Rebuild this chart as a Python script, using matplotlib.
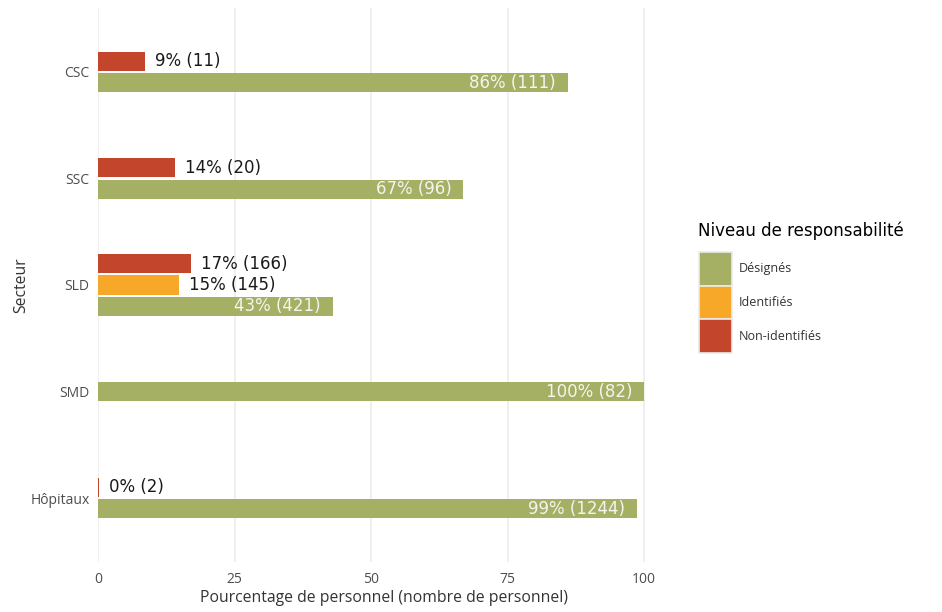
import matplotlib
matplotlib.use("Agg")
import matplotlib.pyplot as plt
from matplotlib.patches import Patch

# Données
secteurs = ["CSC", "SSC", "SLD", "SMD", "Hôpitaux"]
niveaux = ["Désignés", "Identifiés", "Non-identifiés"]
couleurs = ["#A6B064", "#F8A829", "#C2452C"]

designes_pct = [86.0, 66.9, 43.0, 100.0, 98.8]
designes_n = [111, 96, 421, 82, 1244]
identifies_pct = [None, None, 14.9, None, None]
identifies_n = [None, None, 145, None, None]
non_identifies_pct = [8.6, 14.1, 17.0, None, 0.16]
non_identifies_n = [11, 20, 166, None, 2]

pcts = [designes_pct, identifies_pct, non_identifies_pct]
counts = [designes_n, identifies_n, non_identifies_n]

W, H = 942, 612
fig = plt.figure(figsize=(W / 100, H / 100), dpi=100)
ax = fig.add_axes([98 / W, 50 / H, 572 / W, 554 / H])

tick_font = "Open Sans"
bar_h = 0.18
step = 0.2

for i, sect in enumerate(secteurs):
    yc = len(secteurs) - i
    present = [k for k in range(3) if pcts[k][i] is not None]
    n = len(present)
    for j, k in enumerate(present):
        y = yc + (j - (n - 1) / 2) * step
        p = pcts[k][i]
        ax.barh(y, p, height=bar_h, color=couleurs[k], linewidth=0)
        label = f"{int(p + 0.5)}% ({counts[k][i]})"
        if k == 0:
            ax.annotate(label, (p, y), xytext=(-12, 0), textcoords="offset pixels",
                        ha="right", va="center", color="#F4F4F0", fontsize=12,
                        family="DejaVu Sans")
        else:
            ax.annotate(label, (p, y), xytext=(10, 0), textcoords="offset pixels",
                        ha="left", va="center", color="#1A1A1A", fontsize=12,
                        family="DejaVu Sans")

# 100 tombe à 644 px, le panneau continue jusqu'à ~670 px
ax.set_xlim(0, 100 * 572 / 546)
ax.set_ylim(0.4, len(secteurs) + 0.6)
ax.set_xticks([0, 25, 50, 75, 100])
ax.set_yticks(range(len(secteurs), 0, -1))
ax.set_yticklabels(secteurs)
ax.grid(axis="x", color="#EBEBEB", linewidth=1.1)
ax.set_axisbelow(True)
for s in ax.spines.values():
    s.set_visible(False)
ax.tick_params(length=0, labelsize=10, labelcolor="#4D4D4D")
ax.tick_params(axis="x", pad=7)
ax.tick_params(axis="y", pad=6)
for lab in ax.get_xticklabels() + ax.get_yticklabels():
    lab.set_family(tick_font)

ax.set_xlabel("Pourcentage de personnel (nombre de personnel)", fontsize=11.3,
              color="#333333", family=tick_font, labelpad=2)
ax.set_ylabel("Secteur", fontsize=11.3, color="#333333", family=tick_font, labelpad=1)

# Légende (titre posé à part pour régler l'écart)
fig.text(698 / W, 1 - 231 / H, "Niveau de responsabilité", fontsize=12,
         family="DejaVu Sans", color="black", ha="left", va="center")
handles = [Patch(facecolor=c, edgecolor="#EBEBEB", linewidth=1.2) for c in couleurs]
leg = fig.legend(handles, niveaux, loc="upper left", bbox_to_anchor=(693 / W, 1 - 246 / H),
                 frameon=False, prop={"family": tick_font, "size": 9},
                 handlelength=2.6, handleheight=3.75, labelspacing=0.0,
                 handletextpad=0.6, borderpad=0)
for t in leg.get_texts():
    t.set_color("#333333")

fig.savefig("out.png", dpi=100, facecolor="white")
